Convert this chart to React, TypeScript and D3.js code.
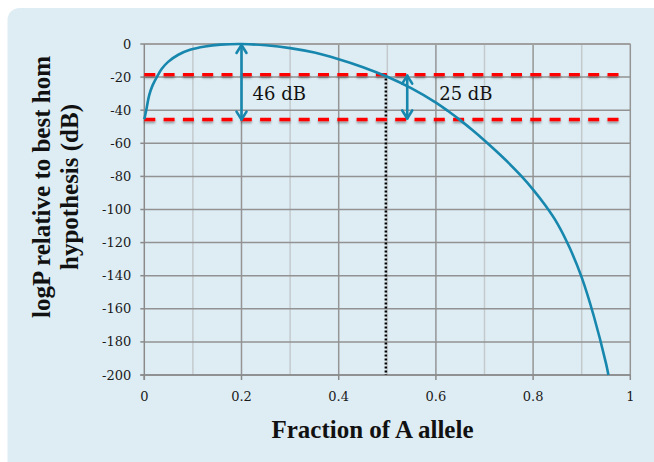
import React from 'react'
import * as d3 from 'd3'

// curve: fraction of A allele vs logP (dB)
const fraction = [0, 0.004, 0.01, 0.017, 0.026, 0.036, 0.049, 0.07, 0.094, 0.125, 0.157, 0.2, 0.25, 0.3, 0.35, 0.4, 0.45, 0.5, 0.55, 0.6, 0.625, 0.65, 0.675, 0.7, 0.725, 0.75, 0.775, 0.8, 0.825, 0.85, 0.875, 0.9, 0.925, 0.95, 0.955]
const logP = [-45.5, -40, -31, -25, -19.8, -15, -10.8, -6.5, -3.5, -1.5, -0.4, 0, -0.8, -2.5, -5.2, -9.2, -14, -19.8, -26.8, -35.4, -40.5, -46, -52, -58.3, -65, -72, -79.6, -88, -97.5, -108.5, -123, -141, -164.5, -193, -200]

const xTicks = [0, 0.2, 0.4, 0.6, 0.8, 1]
const xGrid = [0.1, 0.2, 0.3, 0.4, 0.5, 0.6, 0.7, 0.8, 0.9, 1]
const yTicks = [0, -20, -40, -60, -80, -100, -120, -140, -160, -180, -200]

// annotation values (data units)
const redLevels = [-18.5, -45.6]
const crossFraction = 0.497
const arrows = [
  {at: 0.2, from: 0, to: -46.3, label: '46 dB', dx: 11},
  {at: 0.541, from: -18.5, to: -45.6, label: '25 dB', dx: 32}
]

const W = 654
const H = 462

export default function App() {
  const x = d3.scaleLinear().domain([0, 1]).range([144.3, 630.3])
  const y = d3.scaleLinear().domain([-200, 0]).range([375, 44])

  const pts: [number, number][] = fraction.map((f, i) => [f, logP[i]])
  const curve = d3
    .line<[number, number]>()
    .x(d => x(d[0]))
    .y(d => y(d[1]))
    .curve(d3.curveCatmullRom.alpha(0.5))(pts)

  const teal = '#1787ae'
  const tickFont = {fontFamily: 'DejaVu Serif', fontSize: 13, fill: '#1a1a1a'}
  const titleFont = {fontFamily: 'Liberation Serif', fontSize: 25, fontWeight: 700, fill: '#111'}

  const arrowHead = (cx: number, tip: number, dir: number) =>
    `M${cx - 5},${tip + dir * 8} L${cx},${tip} L${cx + 5},${tip + dir * 8}`

  return (
    <svg width={W} height={H} style={{position: 'absolute', left: 0, top: 0}}>
      <defs>
        <filter id="shadow" filterUnits="userSpaceOnUse" x={0} y={0} width={W} height={H}>
          <feDropShadow dx="0" dy="2" stdDeviation="1.2" floodColor="#000" floodOpacity="0.35" />
        </filter>
      </defs>
      <rect x={0} y={0} width={W} height={H} fill="#fff" />
      <rect x={7.5} y={8} width={W + 20} height={H + 20} rx={12} fill="#deedf4" />

      {/* grid */}
      {xGrid.map((g, i) => (
        <line
          key={'vx' + i}
          x1={x(g)}
          x2={x(g)}
          y1={y(0)}
          y2={y(-200)}
          stroke={i % 2 === 0 ? '#c4c9cc' : '#959595'}
          strokeWidth={1.5}
        />
      ))}
      {yTicks.map(t => (
        <line key={'hy' + t} x1={x(0)} x2={x(1)} y1={y(t)} y2={y(t)} stroke="#929292" strokeWidth={1.5} />
      ))}
      <line x1={x(0)} x2={x(1)} y1={y(0)} y2={y(0)} stroke="#a0a0a0" strokeWidth={2} />

      {/* axes */}
      <line x1={x(0)} x2={x(0)} y1={y(0)} y2={y(-200) + 5} stroke="#8a8a8a" strokeWidth={1.5} />
      <line x1={x(0) - 4} x2={x(1)} y1={y(-200)} y2={y(-200)} stroke="#8a8a8a" strokeWidth={1.5} />
      {yTicks.map(t => (
        <line key={'ty' + t} x1={x(0) - 4} x2={x(0)} y1={y(t)} y2={y(t)} stroke="#8a8a8a" strokeWidth={1.5} />
      ))}
      {xTicks.map(t => (
        <line key={'tx' + t} x1={x(t)} x2={x(t)} y1={y(-200)} y2={y(-200) + 5} stroke="#8a8a8a" strokeWidth={1.5} />
      ))}

      {/* tick labels */}
      {yTicks.map(t => (
        <text key={'ly' + t} x={x(0) - 13} y={y(t) + 4.5} textAnchor="end" {...tickFont}>
          {t}
        </text>
      ))}
      {xTicks.map(t => (
        <text key={'lx' + t} x={x(t)} y={400.5} textAnchor="middle" {...tickFont}>
          {t}
        </text>
      ))}

      {/* dotted drop line */}
      <line
        x1={x(crossFraction)}
        x2={x(crossFraction)}
        y1={y(redLevels[0])}
        y2={y(-200)}
        stroke="#000"
        strokeWidth={2.5}
        strokeDasharray="2 2"
      />

      {/* red dashed levels */}
      <g filter="url(#shadow)">
        {redLevels.map(l => (
          <line
            key={'r' + l}
            x1={x(0)}
            x2={626}
            y1={y(l)}
            y2={y(l)}
            stroke="#ff0000"
            strokeWidth={3.4}
            strokeDasharray="11 8.3"
          />
        ))}
      </g>

      {/* curve */}
      <path d={curve || ''} fill="none" stroke={teal} strokeWidth={2.6} />

      {/* arrows */}
      {arrows.map(a => {
        const cx = x(a.at)
        const top = y(a.from)
        const bot = y(a.to)
        return (
          <g key={a.label} stroke={teal} strokeWidth={2.6} fill="none" strokeLinecap="round" strokeLinejoin="round">
            <line x1={cx} x2={cx} y1={top + 1} y2={bot - 1} />
            <path d={arrowHead(cx, top + 1, 1)} />
            <path d={arrowHead(cx, bot - 1, -1)} />
            <text
              x={cx + a.dx}
              y={100}
              stroke="none"
              fill="#111"
              fontFamily="DejaVu Serif"
              fontSize={18}
            >
              {a.label}
            </text>
          </g>
        )
      })}

      {/* axis titles */}
      <text x={372.5} y={438} textAnchor="middle" {...titleFont}>
        Fraction of A allele
      </text>
      <text transform="translate(50,187) rotate(-90)" textAnchor="middle" {...titleFont}>
        logP relative to best hom
      </text>
      <text transform="translate(77.5,187) rotate(-90)" textAnchor="middle" {...titleFont}>
        hypothesis (dB)
      </text>
    </svg>
  )
}
